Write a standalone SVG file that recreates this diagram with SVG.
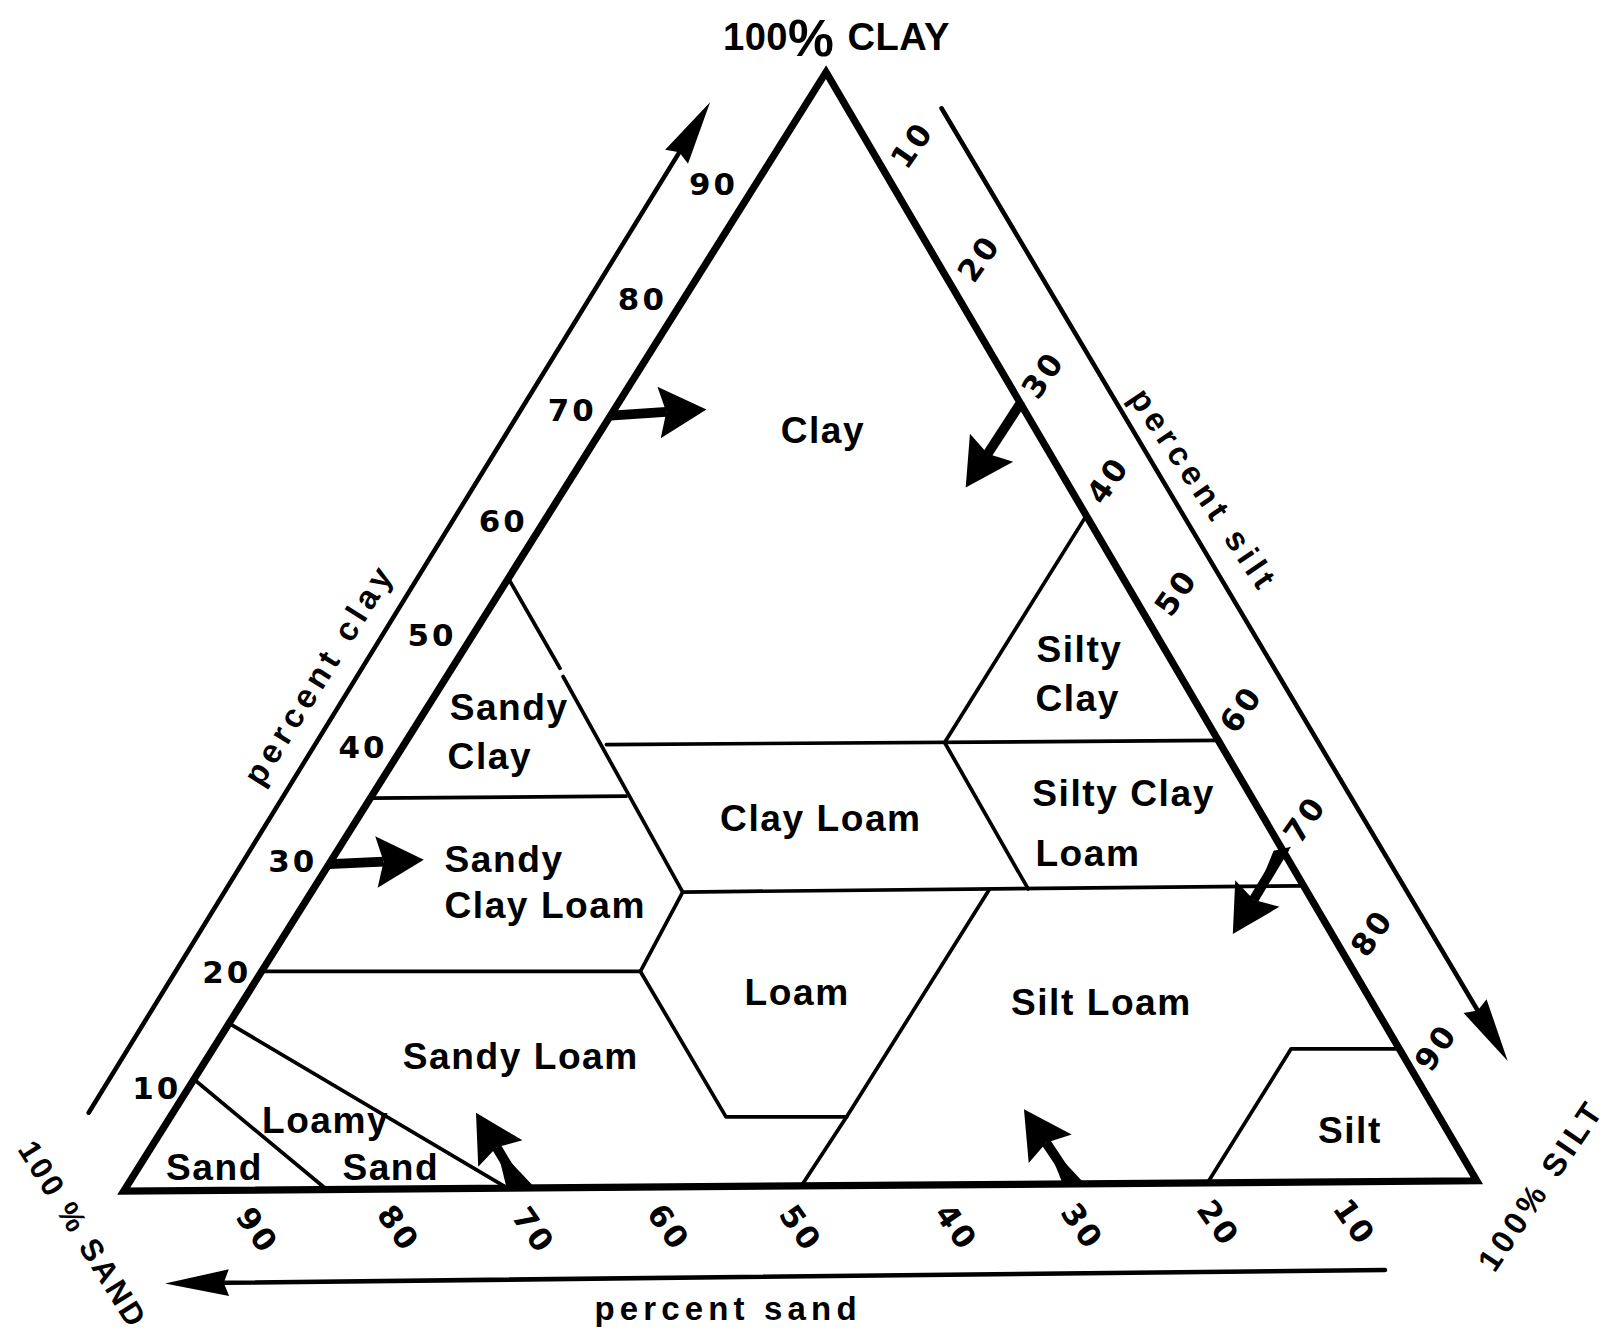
<svg xmlns="http://www.w3.org/2000/svg" width="1617" height="1340" viewBox="0 0 1617 1340">
<defs>
<style>
.edge{fill:none;stroke:#000;stroke-width:7;stroke-linejoin:miter;stroke-miterlimit:10}
.bnd{fill:none;stroke:#000;stroke-width:3.6;stroke-linecap:round;stroke-linejoin:round}
.axis{fill:none;stroke:#000;stroke-width:4.4;stroke-linecap:round}
.ind{fill:none;stroke:#000;stroke-width:9.5;stroke-linecap:butt}
.foot{fill:#000;stroke:none}
.lbl{font-family:"Liberation Sans",Arial,sans-serif;font-weight:bold;font-size:36px;letter-spacing:1.5px;fill:#000}
.mid{text-anchor:middle}
.num{font-family:"DejaVu Sans",sans-serif;font-weight:bold;font-size:30px;letter-spacing:3px;fill:#000;text-anchor:middle}
.axl{font-family:"Liberation Sans",Arial,sans-serif;font-weight:bold;font-size:32px;letter-spacing:5px;fill:#000;text-anchor:middle}
.cor{font-family:"Liberation Sans",Arial,sans-serif;font-weight:bold;font-size:32px;letter-spacing:3px;fill:#000}
</style>
<marker id="ah" markerUnits="userSpaceOnUse" orient="auto" refX="0" refY="0" markerWidth="90" markerHeight="90" overflow="visible">
<path d="M39,0 L-7,-25 L0,0 L-7,25 Z" fill="#000"/>
</marker>
<marker id="axh" markerUnits="userSpaceOnUse" orient="auto" refX="0" refY="0" markerWidth="90" markerHeight="90" overflow="visible">
<path d="M57,0 L-5,-13 L0,0 L-5,13 Z" fill="#000"/>
</marker>
</defs>
<rect x="0" y="0" width="1617" height="1340" fill="#fff"/>
<g transform="scale(1.03125)">

<g id="triangle">
<polygon class="edge" points="801,70 1432,1145 120,1155"/>
</g>

<g id="boundaries">
<path class="bnd" d="M188,1046.5 L316.8,1153.5"/>
<path class="bnd" d="M222.2,992.3 L490,1151"/>
<path class="bnd" d="M254,942 L621,942 L704,1083 L821,1083 L777,1150"/>
<path class="bnd" d="M821,1083 L959,863"/>
<path class="bnd" d="M621,942 L662,865"/>
<path class="bnd" d="M662,865 L1264,859"/>
<path class="bnd" d="M360,774 L607,772"/>
<path class="bnd" d="M493,561 L543,648 M546,656 L662,865"/>
<path class="bnd" d="M588,722 L1181,718"/>
<path class="bnd" d="M1053.4,500 L916,720 L997,862"/>
<path class="bnd" d="M1171,1147 L1252,1017 L1357,1017"/>
</g>

<g id="clay"><text class="lbl mid" x="798" y="430">Clay</text></g>
<g id="sandy-clay"><text class="lbl"><tspan x="436" y="698">Sandy</tspan><tspan x="434" y="746">Clay</tspan></text></g>
<g id="sandy-clay-loam"><text class="lbl"><tspan x="431" y="846">Sandy</tspan><tspan x="431" y="890">Clay Loam</tspan></text></g>
<g id="clay-loam"><text class="lbl mid" x="796" y="806">Clay Loam</text></g>
<g id="silty-clay"><text class="lbl"><tspan x="1005" y="642">Silty</tspan><tspan x="1004" y="689">Clay</tspan></text></g>
<g id="silty-clay-loam"><text class="lbl"><tspan x="1001" y="782">Silty Clay</tspan><tspan x="1004" y="840">Loam</tspan></text></g>
<g id="loam"><text class="lbl mid" x="773" y="975">Loam</text></g>
<g id="silt-loam"><text class="lbl mid" x="1068" y="984">Silt Loam</text></g>
<g id="sandy-loam"><text class="lbl mid" x="505" y="1037">Sandy Loam</text></g>
<g id="loamy-sand"><text class="lbl"><tspan x="254" y="1099">Loamy</tspan><tspan x="332" y="1144">Sand</tspan></text></g>
<g id="sand"><text class="lbl" x="161" y="1144">Sand</text></g>
<g id="silt"><text class="lbl mid" x="1309" y="1108">Silt</text></g>

<g id="clay-ticks">
<text class="num" x="152" y="1066">10</text>
<text class="num" x="220" y="953">20</text>
<text class="num" x="284" y="846">30</text>
<text class="num" x="352" y="735">40</text>
<text class="num" x="419" y="626">50</text>
<text class="num" x="488" y="516">60</text>
<text class="num" x="555" y="408">70</text>
<text class="num" x="623" y="301">80</text>
<text class="num" x="692" y="189">90</text>
</g>
<g id="silt-ticks">
<text class="num" transform="translate(884,140) rotate(-55)" y="11">10</text>
<text class="num" transform="translate(949,250) rotate(-55)" y="11">20</text>
<text class="num" transform="translate(1011,363) rotate(-55)" y="11">30</text>
<text class="num" transform="translate(1074,465) rotate(-55)" y="11">40</text>
<text class="num" transform="translate(1140,574) rotate(-55)" y="11">50</text>
<text class="num" transform="translate(1203,687) rotate(-55)" y="11">60</text>
<text class="num" transform="translate(1265,794) rotate(-55)" y="11">70</text>
<text class="num" transform="translate(1330,904) rotate(-55)" y="11">80</text>
<text class="num" transform="translate(1392,1015) rotate(-55)" y="11">90</text>
</g>
<g id="sand-ticks">
<text class="num" transform="translate(250,1193) rotate(55)" y="11">90</text>
<text class="num" transform="translate(387,1191) rotate(55)" y="11">80</text>
<text class="num" transform="translate(518,1193) rotate(55)" y="11">70</text>
<text class="num" transform="translate(649,1190) rotate(55)" y="11">60</text>
<text class="num" transform="translate(777,1191) rotate(55)" y="11">50</text>
<text class="num" transform="translate(928,1190) rotate(55)" y="11">40</text>
<text class="num" transform="translate(1050,1189) rotate(55)" y="11">30</text>
<text class="num" transform="translate(1182,1186) rotate(55)" y="11">20</text>
<text class="num" transform="translate(1314,1185) rotate(55)" y="11">10</text>
</g>

<g id="axis-labels">
<text class="axl" transform="translate(312,655) rotate(-58)" y="8">percent clay</text>
<text class="axl" transform="translate(1165,477) rotate(56)" y="8">percent silt</text>
<text class="axl" x="706" y="1280">percent sand</text>
</g>

<g id="corner-clay"><text class="cor" x="701" y="48.5" style="letter-spacing:0.5px;font-size:37px">100<tspan x="764" y="54" style="font-size:50px">%</tspan><tspan x="811" y="48.5"> CLAY</tspan></text></g>
<g id="corner-sand"><text class="cor mid" transform="translate(81,1197) rotate(58)" y="11" style="font-size:30px;letter-spacing:3px">100 % SAND</text></g>
<g id="corner-silt"><text class="cor mid" transform="translate(1494,1149) rotate(-56)" y="11" style="font-size:31px;letter-spacing:4.5px">100% SILT</text></g>

<g id="connectors">
<path class="axis" d="M86,1079 L658.7,147.7" marker-end="url(#axh)"/>
<path class="axis" d="M913,105 L1432.9,979.9" marker-end="url(#axh)"/>
<path class="axis" d="M1343,1231.5 L217,1243.9" marker-end="url(#axh)"/>
<path class="ind" d="M592,403 L646.1,399.5" marker-end="url(#ah)"/>
<path class="ind" d="M319,838 L372,835.5" marker-end="url(#ah)"/>
<path class="ind" d="M989,392 L957.7,440.1" marker-end="url(#ah)"/>
<polygon class="foot" points="980,397 994,390 957.7,440.1"/>
<path class="ind" d="M1246,822 L1215.6,872.4" marker-end="url(#ah)"/>
<polygon class="foot" points="1235,825 1252,821 1215.6,872.4"/>
<path class="ind" d="M504,1150 L481.6,1112.6" marker-end="url(#ah)"/>
<polygon class="foot" points="491,1151 518,1151 481.6,1112.6"/>
<path class="ind" d="M1041,1148 L1014.5,1108.1" marker-end="url(#ah)"/>
<polygon class="foot" points="1031,1149 1052,1148 1014.5,1108.1"/>
</g>

</g>
</svg>
